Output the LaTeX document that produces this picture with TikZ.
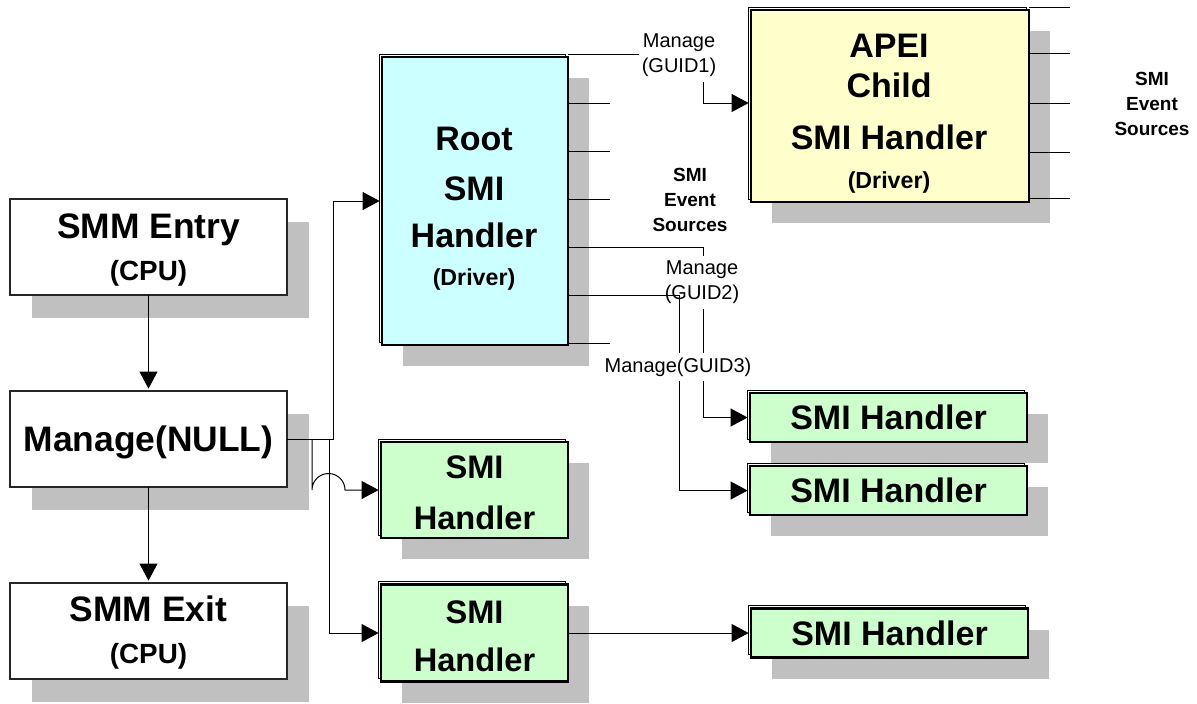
\documentclass[tikz,border=0pt]{standalone}
\usepackage{fontspec}
\setmainfont{Liberation Sans}
\usetikzlibrary{arrows.meta,backgrounds}
\definecolor{shadowgray}{HTML}{C0C0C0}
\definecolor{rootfill}{HTML}{CCFFFF}
\definecolor{apeifill}{HTML}{FFFFCC}
\definecolor{handlerfill}{HTML}{CCFFCC}
\tikzset{
  wbox/.style={draw=black!85, line width=0.6pt, fill=white, inner sep=0pt, outer sep=0pt,
    minimum width=138.5pt, minimum height=48pt},
  cbox/.style={draw=black, line width=1.3pt, inner sep=0pt, outer sep=0pt},
  tbig/.style={font=\bfseries\fontsize{17.7pt}{20pt}\selectfont, inner sep=0pt, text height=12.7pt, text depth=0pt},
  tmed/.style={font=\bfseries\fontsize{17pt}{20pt}\selectfont, inner sep=0pt, text height=12.2pt, text depth=0pt},
  tgm/.style={font=\bfseries\fontsize{16.3pt}{19pt}\selectfont, inner sep=0pt, text height=11.7pt, text depth=0pt},
  tcpu/.style={font=\bfseries\fontsize{13.9pt}{16pt}\selectfont, inner sep=0pt, text height=9.95pt, text depth=0pt},
  tdrv/.style={font=\bfseries\fontsize{11.6pt}{14pt}\selectfont, inner sep=0pt, text height=8.3pt, text depth=0pt},
  tsrc/.style={font=\bfseries\fontsize{9.5pt}{12.3pt}\selectfont, align=center, inner sep=0pt},
  tman/.style={font=\fontsize{10pt}{12.5pt}\selectfont, align=center, fill=white, inner xsep=1.5pt, inner ysep=2.5pt},
  wire/.style={draw=black, line width=0.5pt},
  feed/.style={wire, -{Triangle[length=8.5pt,width=9pt]}, shorten >=1.2pt},
}
\begin{document}
\begin{tikzpicture}[x=0.5pt, y=-0.5pt]
\useasboundingbox (0,0) rectangle (1197,703);

% CPU side: entry, dispatch, exit
\node[wbox] (entry) at (148.5,247) {};
\node[wbox] (mn) at (148.5,439) {};
\node[wbox] (exit) at (148.5,631) {};
\node[tbig] (entryT) at (148.5,226) {SMM Entry};
\node[tcpu] (entryC) at (148.5,271) {(CPU)};
\node[tbig] (mnT) at (148.5,439) {Manage(NULL)};
\node[tbig] (exitT) at (148.5,609) {SMM Exit};
\node[tcpu] (exitC) at (148.5,654) {(CPU)};

% driver boxes
\node[cbox, fill=rootfill, minimum width=93pt, minimum height=144pt] (root) at (475,201) {};
\node[cbox, fill=apeifill, minimum width=139pt, minimum height=96pt] (apei) at (890,106) {};
\node[cbox, fill=handlerfill, minimum width=93.5pt, minimum height=48pt] (gm1) at (474.5,490) {};
\node[cbox, fill=handlerfill, minimum width=93.5pt, minimum height=48.5pt] (gm2) at (474.5,633) {};
\node[cbox, tmed, fill=handlerfill, minimum width=138.5pt, minimum height=24.5pt] (gr1) at (888.5,417.5) {SMI Handler};
\node[cbox, tmed, fill=handlerfill, minimum width=138.5pt, minimum height=24.5pt] (gr2) at (888.5,490.5) {SMI Handler};
\node[cbox, tmed, fill=handlerfill, minimum width=138.5pt, minimum height=24.5pt] (gr3) at (889.5,633) {SMI Handler};

% drop shadows and offset outlines
\begin{scope}[on background layer]
  \foreach \n in {entry,mn,exit}
    \fill[shadowgray] ([shift={(11pt,-11.5pt)}]\n.north west) rectangle ([shift={(11pt,-11.5pt)}]\n.south east);
  \foreach \n in {root,apei,gm1,gm2,gr1,gr2,gr3} {
    \fill[shadowgray] ([shift={(10.5pt,-10.5pt)}]\n.north west) rectangle ([shift={(10.5pt,-10.5pt)}]\n.south east);
    \draw[wire] ([shift={(-1.5pt,1.5pt)}]\n.north west) rectangle ([shift={(-1.5pt,1.5pt)}]\n.south east);
  }
\end{scope}

% box captions
\node[tmed] (rootA) at (474,138) {Root};
\node[tmed] (rootB) at (474,188) {SMI};
\node[tmed] (rootC) at (474,235) {Handler};
\node[tdrv] (rootD) at (474,277) {(Driver)};
\node[tmed] (apeiA) at (889,45) {APEI};
\node[tmed] (apeiB) at (889,85) {Child};
\node[tmed] (apeiC) at (889,137) {SMI Handler};
\node[tdrv] (apeiD) at (889,180) {(Driver)};
\node[tgm] (gm1A) at (474.5,466.5) {SMI};
\node[tgm] (gm1B) at (474.5,517.5) {Handler};
\node[tgm] (gm2A) at (474.5,611.5) {SMI};
\node[tgm] (gm2B) at (474.5,659.5) {Handler};
\node[tsrc] (srcRoot) at (690,200) {SMI\\Event\\Sources};
\node[tsrc] (srcApei) at (1152,104) {SMI\\Event\\Sources};

% CPU flow
\draw[feed] (entry) -- (mn);
\draw[feed] (mn) -- (exit);

% dispatch from Manage(NULL)
\draw[feed] (mn.east) -- (333,439) |- (root.west);
\draw[feed] (312,439) -- (312,490) arc[start angle=180, end angle=0, radius=8.25pt] -- (gm1.west);
\draw[feed] (329,439) |- (gm2.west);

% root handler event-source stubs
\foreach \y in {103,151,199,343}
  \draw[wire] (root.east |- 0,\y) -- (610,\y);

% child dispatch
\draw[feed] ([yshift=1.5pt]root.north east) -- (703,54) |- (apei.west |- 0,103);
\node[tman] (g1) at (679,55.5) {Manage\\(GUID1)};
\draw[feed] (root.east |- 0,247) -- (703,247) |- (gr1.west);
\node[tman] (g2) at (702,282.5) {Manage\\(GUID2)};
\draw[feed] (root.east |- 0,295) -- (679,295) |- (gr2.west);
\node[tman] (g3) at (678,367) {Manage(GUID3)};
\draw[feed] (gm2) -- (gr3);

% APEI handler event-source stubs
\draw[wire] ([yshift=1.5pt]apei.north east) -- (1070,7);
\foreach \y in {53,103,152,198}
  \draw[wire] (apei.east |- 0,\y) -- (1070,\y);
\end{tikzpicture}
\end{document}
